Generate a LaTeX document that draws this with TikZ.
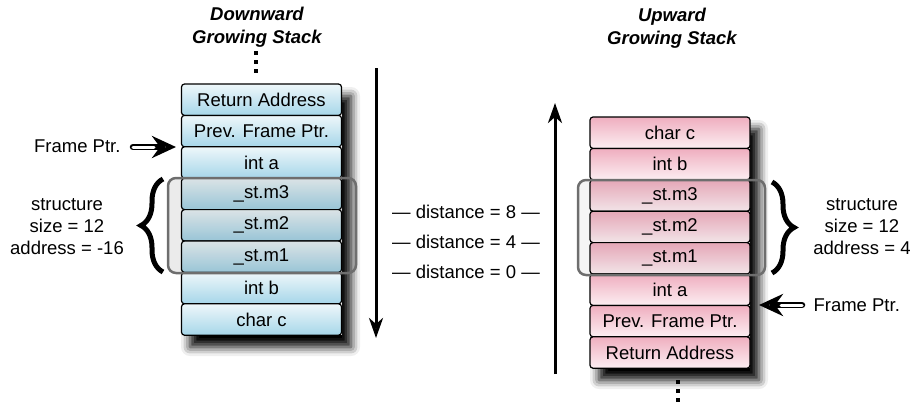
\documentclass[tikz,border=0pt]{standalone}
\usepackage{fontspec}
\setmainfont{Liberation Sans}
\usetikzlibrary{arrows.meta,decorations.pathreplacing,shadows.blur}
\definecolor{bluetop}{HTML}{EEF7FA}
\definecolor{bluebot}{HTML}{A6D6E9}
\definecolor{pinktop}{HTML}{EFAEBF}
\definecolor{pinkbot}{HTML}{FCEEF2}
\definecolor{structgray}{HTML}{6E6E6E}
\begin{document}
\begin{tikzpicture}[x=1pt,y=-1pt,
  every node/.style={font=\fontsize{18.5}{22}\selectfont},
  cell/.style={draw=black, line width=1.2pt, rounded corners=3pt,
    minimum width=160pt, minimum height=31.4pt, inner sep=0pt},
  bluecell/.style={cell, top color=bluetop, bottom color=bluebot},
  pinkcell/.style={cell, top color=pinktop, bottom color=pinkbot},
  titletext/.style={align=center, font=\fontsize{18.5}{23}\selectfont\bfseries\itshape},
  infotext/.style={align=center, font=\fontsize{18.5}{22}\selectfont},
  structbox/.style={draw=structgray, line width=2.5pt, rounded corners=8pt, fill=black},
  bigbrace/.style={decorate, decoration={brace, amplitude=22pt}, line width=5pt},
  growarrow/.style={line width=3pt, -{Stealth[length=20pt, width=14pt, inset=6pt]}},
  ptrouter/.style={line width=6.5pt, line cap=round, -{Stealth[length=24pt, width=22pt, inset=8pt]}},
  ptrinner/.style={white, line width=3pt, line cap=round, shorten >=22pt},
  stackshadow/.style={fill=white, draw=none, blur shadow={shadow xshift=9pt, shadow yshift=-12pt, shadow blur radius=9pt, shadow opacity=100}},
  dot/.style={fill=black}
]
\useasboundingbox (0,0) rectangle (913,408);

% ---------- Left: downward growing stack ----------
\node[titletext] (ltitle) at (257,27) {Downward\\Growing Stack};
\fill[dot] (254,51) rectangle (258,55);
\fill[dot] (254,60) rectangle (258,64);
\fill[dot] (254,69) rectangle (258,73);

\path[stackshadow] (181,84) rectangle (342,335);
\node[bluecell] (lra)  at (261.5,99.7)  {Return Address};
\node[bluecell] (lpfp) at (261.5,131.1) {Prev. Frame Ptr.};
\node[bluecell] (la)   at (261.5,162.5) {int a};
\node[bluecell] (lm3)  at (261.5,193.9) {\_st.m3};
\node[bluecell] (lm2)  at (261.5,225.3) {\_st.m2};
\node[bluecell] (lm1)  at (261.5,256.7) {\_st.m1};
\node[bluecell] (lb)   at (261.5,288.1) {int b};
\node[bluecell] (lc)   at (261.5,319.5) {char c};
\draw[structbox, fill opacity=0.08] (168,178) rectangle (356,273);

\coordinate (lbraceb) at (163,272);
\coordinate (lbracet) at (163,179);
\draw[bigbrace] (lbraceb) -- (lbracet);
\node[infotext] (lstruct) at (67,227) {structure\\size = 12\\address = -16};

\node[infotext, anchor=east] (lfp) at (124,146) {Frame Ptr.};
\coordinate (lfptail) at (133,147);
\coordinate (lfptip) at (176,147);
\draw[ptrouter] (lfptail) -- (lfptip);
\draw[ptrinner] (lfptail) -- (lfptip);

\coordinate (downtop) at (376,68);
\coordinate (downbot) at (376,338);
\draw[growarrow] (downtop) -- (downbot);

% ---------- Middle: distances ----------
\node[infotext] (d8) at (466,212) {— distance = 8 —};
\node[infotext] (d4) at (466,242) {— distance = 4 —};
\node[infotext] (d0) at (466,272) {— distance = 0 —};

% ---------- Right: upward growing stack ----------
\node[titletext] (rtitle) at (672,28) {Upward\\Growing Stack};

\path[stackshadow] (590,117) rectangle (750,368);
\node[pinkcell] (rc)   at (670,132.7) {char c};
\node[pinkcell] (rb)   at (670,164.1) {int b};
\node[pinkcell] (rm3)  at (670,195.5) {\_st.m3};
\node[pinkcell] (rm2)  at (670,226.9) {\_st.m2};
\node[pinkcell] (rm1)  at (670,258.3) {\_st.m1};
\node[pinkcell] (ra)   at (670,289.7) {int a};
\node[pinkcell] (rpfp) at (670,321.1) {Prev. Frame Ptr.};
\node[pinkcell] (rra)  at (670,352.5) {Return Address};
\draw[structbox, fill opacity=0.04] (578,180) rectangle (765,275);

\fill[dot] (676,380) rectangle (680,384);
\fill[dot] (676,389) rectangle (680,393);
\fill[dot] (676,398) rectangle (680,402);

\coordinate (rbracet) at (772,182);
\coordinate (rbraceb) at (772,273);
\draw[bigbrace] (rbracet) -- (rbraceb);
\node[infotext] (rstruct) at (862,227) {structure\\size = 12\\address = 4};

\node[infotext, anchor=west] (rfp) at (810,305) {Frame Ptr.};
\coordinate (rfptail) at (802,305);
\coordinate (rfptip) at (759,305);
\draw[ptrouter] (rfptail) -- (rfptip);
\draw[ptrinner] (rfptail) -- (rfptip);

\coordinate (upbot) at (555,374);
\coordinate (uptop) at (555,103);
\draw[growarrow] (upbot) -- (uptop);
\end{tikzpicture}
\end{document}
